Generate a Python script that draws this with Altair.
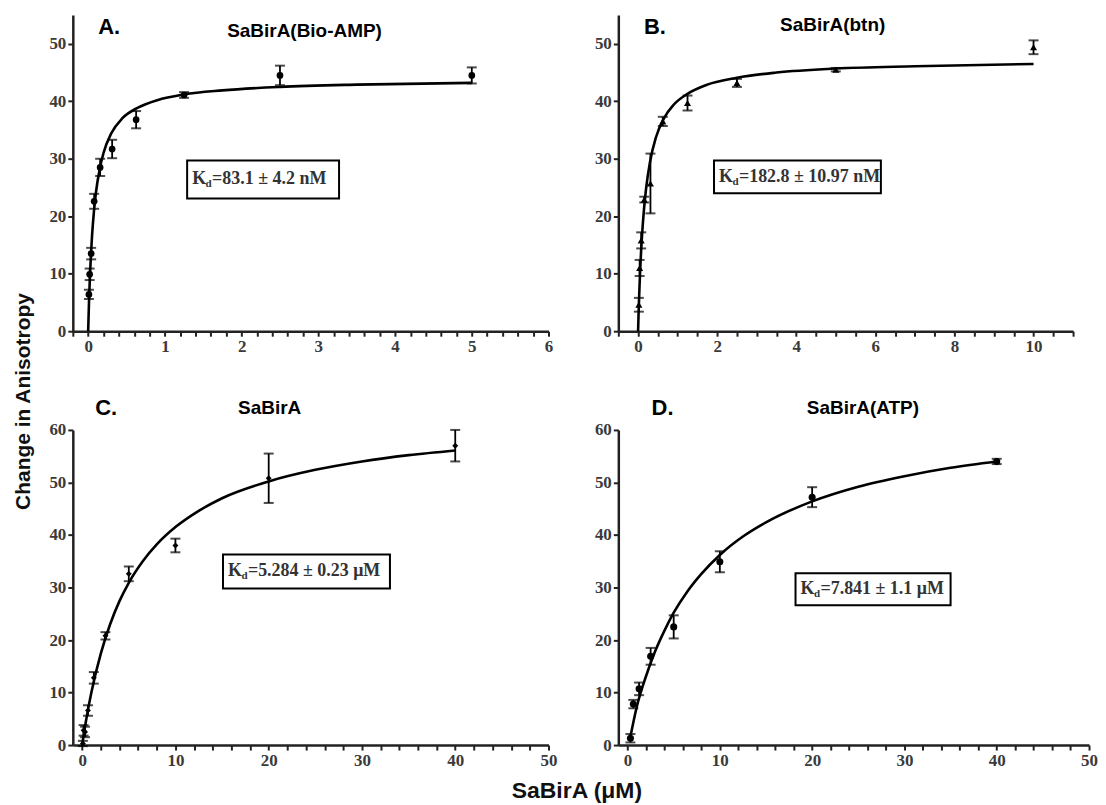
import altair as alt
import pandas as pd

# ---------------- data ----------------
# Panel A: SaBirA(Bio-AMP)
a_x = [0.0098, 0.0195, 0.039, 0.078, 0.156, 0.3125, 0.625, 1.25, 2.5, 5]
a_y = [6.4, 9.9, 13.5, 22.6, 28.5, 31.7, 36.8, 41.1, 44.5, 44.5]
a_err = [0.8, 1.0, 1.0, 1.3, 1.5, 1.6, 1.5, 0.5, 1.7, 1.4]
a_fit_x = [0, 0.01, 0.02, 0.035, 0.05, 0.075, 0.1, 0.15, 0.2, 0.3, 0.45, 0.65, 0.9, 1.25, 1.75, 2.5, 3.5, 5]
a_fit_y = [0, 4.7, 8.5, 13.0, 16.5, 20.8, 24.0, 28.2, 31.0, 34.4, 37.1, 38.9, 40.2, 41.2, 41.9, 42.5, 42.9, 43.2]

# Panel B: SaBirA(btn)
b_x = [0.0195, 0.039, 0.078, 0.156, 0.3125, 0.625, 1.25, 2.5, 5, 10]
b_y = [4.6, 11.0, 15.8, 22.9, 25.7, 36.5, 39.7, 43.2, 45.5, 49.4]
b_err = [1.2, 1.4, 1.4, 0.5, 5.2, 0.8, 1.3, 0.7, 0.3, 1.2]
b_fit_x = [0, 0.01, 0.02, 0.035, 0.05, 0.075, 0.1, 0.15, 0.2, 0.3, 0.45, 0.65, 0.9, 1.25, 1.75, 2.5, 3.5, 5, 7, 10]
b_fit_y = [0, 2.5, 4.7, 7.6, 10.2, 13.8, 16.7, 21.3, 24.7, 29.4, 33.7, 37.0, 39.4, 41.3, 42.9, 44.1, 45.0, 45.7, 46.1, 46.5]

# Panel C: SaBirA
c_x = [0.078, 0.156, 0.3125, 0.625, 1.25, 2.5, 5, 10, 20, 40]
c_y = [0.3, 2.8, 2.5, 6.6, 12.8, 20.8, 32.6, 38.0, 50.8, 57.0]
c_err = [0.5, 1.0, 1.0, 1.0, 1.1, 0.7, 1.4, 1.3, 4.7, 3.0]
c_fit_x = [0, 0.25, 0.5, 1, 2, 3, 4, 5, 6.5, 8, 10, 12.5, 15, 20, 25, 30, 35, 40]
c_fit_y = [0, 2.9, 5.5, 10.1, 17.4, 23.0, 27.4, 30.9, 35.0, 38.2, 41.5, 44.6, 47.0, 50.2, 52.4, 54.0, 55.2, 56.1]

# Panel D: SaBirA(ATP)
d_x = [0.3125, 0.625, 1.25, 2.5, 5, 10, 20, 40]
d_y = [1.3, 7.8, 10.7, 16.9, 22.5, 34.9, 47.2, 54.0]
d_err = [0.8, 0.8, 1.2, 1.6, 2.2, 2.0, 1.9, 0.5]
d_fit_x = [0.3, 1, 2, 3, 4, 5, 6.5, 8, 10, 12.5, 15, 20, 25, 30, 35, 40]
d_fit_y = [1.5, 7.3, 13.1, 17.9, 21.8, 25.2, 29.3, 32.6, 36.2, 39.7, 42.4, 46.4, 49.2, 51.2, 52.8, 54.0]

# Axis ticks: x tick counts (minor ticks every 0.2 / 0.5 / 2), label steps 1 / 2 / 10
a_xcount, a_xstep = 40, 1
b_xcount, b_xstep = 30, 2
cd_xcount, cd_xstep = 35, 10
ab_yticks = [0, 10, 20, 30, 40, 50]
cd_yticks = [0, 10, 20, 30, 40, 50, 60]

# Labels / annotations
letters = ["A.", "B.", "C.", "D."]
titles = ["SaBirA(Bio-AMP)", "SaBirA(btn)", "SaBirA", "SaBirA(ATP)"]
kd_values = ["=83.1 \u00b1 4.2 nM", "=182.8 \u00b1 10.97 nM", "=5.284 \u00b1 0.23 \u03bcM", "=7.841 \u00b1 1.1 \u03bcM"]
y_title = "Change in Anisotropy"
x_title = "SaBirA (\u03bcM)"


def panel(px, py, perr, fx, fy, shape, msize, xdom, ydom, xcount, xstep, yticks,
          letter, letter_xy, title, title_xy, box, kd_text, w, h, yaxis_extra=None, xaxis_extra=None):
    xs = alt.Scale(domain=xdom, nice=False, zero=False)
    ys = alt.Scale(domain=ydom, nice=False, zero=False)
    xkw = dict(tickCount=xcount, labelOverlap=False, labelFlush=False,
               labelExpr=(f"datum.value >= 0 && abs(datum.value/{xstep} - round(datum.value/{xstep})) < 0.001"
                          " ? format(datum.value, 'd') : ''"),
               title=None)
    if xaxis_extra:
        xkw.update(xaxis_extra)
    ykw = dict(values=yticks, tickCount=500, format="d", labelOverlap=False, title=None)
    if yaxis_extra:
        ykw.update(yaxis_extra)
    xa = alt.Axis(**xkw)
    ya = alt.Axis(**ykw)

    def X(f):
        return alt.X(f, type="quantitative", scale=xs, axis=xa)

    def Y(f):
        return alt.Y(f, type="quantitative", scale=ys, axis=ya)

    pts = pd.DataFrame({"x": px, "y": py, "e": perr})
    pts["lo"] = pts["y"] - pts["e"]
    pts["hi"] = pts["y"] + pts["e"]
    fit = pd.DataFrame({"x": fx, "y": fy})

    line = alt.Chart(fit).mark_line(color="black", strokeWidth=2.6, interpolate="monotone").encode(
        x=X("x"), y=Y("y"))
    bars = alt.Chart(pts).mark_rule(color="black", strokeWidth=1.8).encode(
        x=X("x"), y=Y("lo"), y2="hi")
    cap_lo = alt.Chart(pts).mark_tick(color="black", orient="horizontal", size=10, thickness=2).encode(
        x=X("x"), y=Y("lo"))
    cap_hi = alt.Chart(pts).mark_tick(color="black", orient="horizontal", size=10, thickness=2).encode(
        x=X("x"), y=Y("hi"))
    marks = alt.Chart(pts).mark_point(filled=True, shape=shape, size=msize, color="black", opacity=1).encode(
        x=X("x"), y=Y("y"))

    bx = pd.DataFrame({"x": [box[0]], "x2": [box[1]], "y": [box[2]], "y2": [box[3]],
                       "ty": [(box[2] + box[3]) / 2]})
    rect = alt.Chart(bx).mark_rect(fill="white", stroke="black", strokeWidth=2).encode(
        x=X("x"), x2="x2", y=Y("y"), y2="y2")
    kfont = dict(font="Liberation Serif", fontWeight="bold", color="#333", baseline="middle", align="left")
    k1 = alt.Chart(bx).mark_text(text="K", fontSize=18, dx=5, **kfont).encode(x=X("x"), y=Y("ty"))
    k2 = alt.Chart(bx).mark_text(text="d", fontSize=11, dx=18.5, dy=5, **kfont).encode(x=X("x"), y=Y("ty"))
    k3 = alt.Chart(bx).mark_text(text=kd_text, fontSize=18, dx=25, **kfont).encode(x=X("x"), y=Y("ty"))

    lab = pd.DataFrame({"x": [letter_xy[0]], "y": [letter_xy[1]], "t": [letter]})
    ttl = pd.DataFrame({"x": [title_xy[0]], "y": [title_xy[1]], "t": [title]})
    t_letter = alt.Chart(lab).mark_text(font="Liberation Sans", fontWeight="bold", fontSize=22,
                                        align="left", baseline="middle", color="black").encode(
        x=X("x"), y=Y("y"), text="t:N")
    t_title = alt.Chart(ttl).mark_text(font="Liberation Sans", fontWeight="bold", fontSize=19,
                                       align="center", baseline="middle", color="black").encode(
        x=X("x"), y=Y("y"), text="t:N")

    return alt.layer(line, bars, cap_lo, cap_hi, marks, rect, k1, k2, k3, t_letter, t_title).properties(
        width=w, height=h)


pA = panel(a_x, a_y, a_err, a_fit_x, a_fit_y, "circle", 45, [-0.2, 6], [0, 55], a_xcount, a_xstep, ab_yticks,
           letters[0], (0.13, 53.0), titles[0], (2.82, 52.3), (1.29, 3.27, 23.1, 29.7), kd_values[0], 477, 317,
           yaxis_extra=dict(title=y_title, titleX=-49, titleY=387, titleAngle=270,
                            titleAlign="center", titleBaseline="middle"))
pB = panel(b_x, b_y, b_err, b_fit_x, b_fit_y, "triangle-up", 50, [-0.5, 11], [0, 55], b_xcount, b_xstep, ab_yticks,
           letters[1], (0.15, 53.0), titles[1], (4.92, 53.3), (1.92, 6.14, 24.0, 29.7), kd_values[1], 456, 317)
pC = panel(c_x, c_y, c_err, c_fit_x, c_fit_y, "diamond", 35, [-1, 50], [0, 60], cd_xcount, cd_xstep, cd_yticks,
           letters[2], (1.4, 64.2), titles[2], (20.1, 64.2), (15.1, 33.0, 29.8, 36.3), kd_values[2], 477, 316,
           xaxis_extra=dict(title=x_title, titleX=505, titleY=46, titleAlign="center", titleBaseline="middle",
                            titleFontSize=23))
pD = panel(d_x, d_y, d_err, d_fit_x, d_fit_y, "circle", 50, [-1, 50], [0, 60], cd_xcount, cd_xstep, cd_yticks,
           letters[3], (2.6, 64.2), titles[3], (25.5, 64.2), (18.2, 35.0, 26.6, 32.7), kd_values[3], 472, 316)

chart = alt.concat(pA, pB, pC, pD, columns=2, spacing={"row": 99, "column": 70}, bounds="flush").properties(
    padding={"left": 5, "top": 6, "right": 0, "bottom": 0},
    background="white",
).configure_view(strokeWidth=0).configure_axis(
    grid=False,
    domainColor="#222", domainWidth=2.5,
    tickColor="#222", tickWidth=2, tickSize=5,
    labelFont="Liberation Serif", labelFontWeight="bold", labelFontSize=17, labelColor="#3a3a3a",
    labelPadding=2,
    titleFont="Liberation Sans", titleFontWeight="bold", titleFontSize=21, titleColor="#111",
)

chart.save("out.html", embed_options={"renderer": "svg", "actions": False})
